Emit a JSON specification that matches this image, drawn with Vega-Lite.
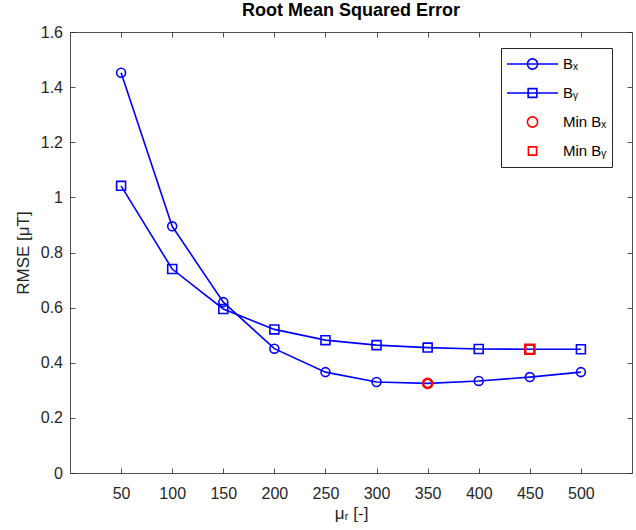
{
  "$schema": "https://vega.github.io/schema/vega-lite/v6.json",
  "autosize": "none",
  "padding": {"left": 70, "top": 32, "right": 4, "bottom": 57},
  "width": 562,
  "height": 441,
  "background": "white",
  "datasets": {
    "main": [
      {"mu": 50, "rmse": 1.452, "series": "BX"},
      {"mu": 100, "rmse": 0.895, "series": "BX"},
      {"mu": 150, "rmse": 0.62, "series": "BX"},
      {"mu": 200, "rmse": 0.451, "series": "BX"},
      {"mu": 250, "rmse": 0.366, "series": "BX"},
      {"mu": 300, "rmse": 0.33, "series": "BX"},
      {"mu": 350, "rmse": 0.325, "series": "BX"},
      {"mu": 400, "rmse": 0.334, "series": "BX"},
      {"mu": 450, "rmse": 0.348, "series": "BX"},
      {"mu": 500, "rmse": 0.366, "series": "BX"},
      {"mu": 50, "rmse": 1.042, "series": "BY"},
      {"mu": 100, "rmse": 0.74, "series": "BY"},
      {"mu": 150, "rmse": 0.595, "series": "BY"},
      {"mu": 200, "rmse": 0.521, "series": "BY"},
      {"mu": 250, "rmse": 0.482, "series": "BY"},
      {"mu": 300, "rmse": 0.464, "series": "BY"},
      {"mu": 350, "rmse": 0.455, "series": "BY"},
      {"mu": 400, "rmse": 0.45, "series": "BY"},
      {"mu": 450, "rmse": 0.449, "series": "BY"},
      {"mu": 500, "rmse": 0.449, "series": "BY"}
    ],
    "minima": [
      {"mu": 350, "rmse": 0.325, "series": "Min BX"},
      {"mu": 450, "rmse": 0.449, "series": "Min BY"}
    ]
  },
  "title": {
    "text": "Root Mean Squared Error",
    "font": "Liberation Sans",
    "fontSize": 18,
    "fontWeight": "bold",
    "color": "#000000",
    "anchor": "middle",
    "frame": "group",
    "offset": 4
  },
  "resolve": {"scale": {"shape": "independent", "strokeWidth": "independent", "color": "independent"}},
  "config": {
    "view": {"stroke": null},
    "axis": {
      "domainColor": "#262626",
      "domainWidth": 0.8,
      "tickColor": "#262626",
      "tickWidth": 0.8,
      "tickSize": -5,
      "grid": false,
      "labelFont": "Liberation Sans",
      "labelFontSize": 16,
      "labelColor": "#262626",
      "titleFont": "Liberation Sans",
      "titleFontSize": 17,
      "titleFontWeight": "normal",
      "titleColor": "#262626"
    },
    "legend": {
      "labelFont": "Liberation Sans",
      "labelFontSize": 15,
      "labelColor": "#000000"
    }
  },
  "layer": [
    {
      "data": {"name": "main"},
      "mark": {"type": "line", "color": "#0000ff", "strokeWidth": 1.6},
      "encoding": {
        "x": {
          "field": "mu",
          "type": "quantitative",
          "scale": {"domain": [0, 550], "nice": false, "zero": false},
          "axis": {
            "orient": "bottom",
            "values": [50, 100, 150, 200, 250, 300, 350, 400, 450, 500],
            "labelPadding": 17,
            "title": "μᵣ [-]",
            "titlePadding": 4
          }
        },
        "y": {
          "field": "rmse",
          "type": "quantitative",
          "scale": {"domain": [0, 1.6], "nice": false, "zero": false},
          "axis": {
            "orient": "left",
            "values": [0, 0.2, 0.4, 0.6, 0.8, 1, 1.2, 1.4, 1.6],
            "format": "~g",
            "labelPadding": 12.5,
            "title": "RMSE [μT]",
            "titlePadding": 8
          }
        },
        "detail": {"field": "series"}
      }
    },
    {
      "data": {"name": "main"},
      "mark": {"type": "point", "filled": false, "strokeWidth": 1.6, "size": 80, "opacity": 1},
      "encoding": {
        "x": {
          "field": "mu",
          "type": "quantitative",
          "axis": {
            "orient": "top",
            "values": [50, 100, 150, 200, 250, 300, 350, 400, 450, 500],
            "labels": false,
            "title": null
          }
        },
        "y": {
          "field": "rmse",
          "type": "quantitative",
          "axis": {
            "orient": "right",
            "values": [0, 0.2, 0.4, 0.6, 0.8, 1, 1.2, 1.4, 1.6],
            "labels": false,
            "title": null
          }
        },
        "shape": {
          "field": "series",
          "type": "nominal",
          "scale": {"domain": ["BX", "BY"], "range": ["circle", "square"]},
          "legend": null
        },
        "color": {
          "field": "series",
          "type": "nominal",
          "scale": {"domain": ["BX", "BY"], "range": ["#0000ff", "#0000ff"]},
          "legend": null
        }
      }
    },
    {
      "data": {"name": "minima"},
      "mark": {"type": "point", "filled": false, "strokeWidth": 2.4, "size": 85, "opacity": 1},
      "encoding": {
        "x": {"field": "mu", "type": "quantitative", "axis": null},
        "y": {"field": "rmse", "type": "quantitative", "axis": null},
        "shape": {
          "field": "series",
          "type": "nominal",
          "scale": {"domain": ["Min BX", "Min BY"], "range": ["circle", "square"]},
          "legend": null
        },
        "color": {
          "field": "series",
          "type": "nominal",
          "scale": {"domain": ["Min BX", "Min BY"], "range": ["#ff0000", "#ff0000"]},
          "legend": null
        }
      }
    },
    {
      "data": {"name": "minima"},
      "mark": {"type": "point", "filled": false, "opacity": 0},
      "encoding": {
        "x": {"field": "mu", "type": "quantitative", "axis": null},
        "y": {"field": "rmse", "type": "quantitative", "axis": null},
        "shape": {
          "field": "series",
          "type": "nominal",
          "scale": {
            "domain": ["BX", "BY", "Min BX", "Min BY"],
            "range": [
              "M-1,0L1,0M-0.2,0A0.2,0.2,0,1,1,0.2,0A0.2,0.2,0,1,1,-0.2,0Z",
              "M-1,0L1,0M-0.17,-0.17L0.17,-0.17L0.17,0.17L-0.17,0.17Z",
              "M-0.2,0A0.2,0.2,0,1,1,0.2,0A0.2,0.2,0,1,1,-0.2,0Z",
              "M-0.16,-0.16L0.16,-0.16L0.16,0.16L-0.16,0.16Z"
            ]
          },
          "legend": {
            "title": null,
            "orient": "none",
            "legendX": 431,
            "legendY": 16,
            "padding": 5,
            "strokeColor": "#262626",
            "fillColor": "white",
            "symbolSize": 2601,
            "clipHeight": 22,
            "rowPadding": 7,
            "labelOffset": 4,
            "symbolOpacity": 1,
            "symbolFillColor": "transparent",
            "labelExpr": "datum.value === 'BX' ? 'Bₓ' : datum.value === 'BY' ? 'Bᵧ' : datum.value === 'Min BX' ? 'Min Bₓ' : 'Min Bᵧ'"
          }
        },
        "strokeWidth": {
          "field": "series",
          "type": "nominal",
          "scale": {"domain": ["BX", "BY", "Min BX", "Min BY"], "range": [1.6, 1.6, 2.4, 2.4]},
          "legend": {"title": null}
        },
        "color": {
          "field": "series",
          "type": "nominal",
          "scale": {"domain": ["BX", "BY", "Min BX", "Min BY"], "range": ["#0000ff", "#0000ff", "#ff0000", "#ff0000"]},
          "legend": {"title": null}
        }
      }
    }
  ]
}
